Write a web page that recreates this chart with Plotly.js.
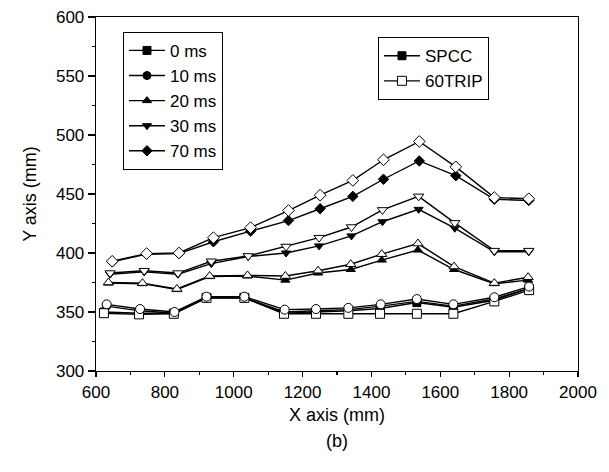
<!DOCTYPE html>
<html>
<head>
<meta charset="utf-8">
<script src="https://cdn.plot.ly/plotly-3.0.1.min.js"></script>
<style>html,body{margin:0;padding:0;background:#fff;}#chart{width:609px;height:472px;}</style>
</head>
<body>
<div id="chart"></div>
<script>
// X positions (mm) per delay group
const x0ms  = [623, 725, 826, 921, 1031, 1146, 1239, 1333, 1425, 1532, 1638, 1757, 1858];
const x10ms = [631, 728, 828, 921, 1031, 1148, 1239, 1333, 1427, 1532, 1638, 1757, 1858];
const x20ms = [636, 735, 835, 930, 1040, 1150, 1245, 1340, 1430, 1535, 1640, 1757, 1855];
const x30ms = [641, 740, 838, 935, 1042, 1152, 1248, 1342, 1432, 1537, 1642, 1757, 1857];
const x70ms = [647, 747, 841, 941, 1049, 1159, 1251, 1346, 1435, 1539, 1645, 1757, 1857];

// SPCC (filled markers)
const spcc0  = [350, 349, 349, 362, 362, 349, 350, 351, 353, 358, 354, 360, 370];
const spcc10 = [355, 351, 349, 362, 362, 350, 351, 352, 355, 359, 355, 361, 370];
const spcc20 = [374.5, 374, 369, 380, 380.5, 377, 383, 386, 394, 402.5, 386, 374, 377];
const spcc30 = [382, 384, 382, 391, 397, 400, 406, 414.5, 426.5, 437, 421, 401, 401];
const spcc70 = [392.5, 399, 399.5, 409.5, 418.5, 427.5, 437.5, 448, 462.5, 478, 465.5, 445.5, 444.5];

// 60TRIP (open markers)
const trip0  = [349, 348, 348.5, 362, 362, 348.5, 348.5, 348.5, 348.5, 348.5, 348.5, 359, 368.5];
const trip10 = [356.5, 352.5, 350, 363, 363, 352, 352.5, 353.5, 356.5, 361, 356.5, 362.5, 371.5];
const trip20 = [375, 374.5, 369.5, 380.5, 381, 380.5, 385, 390.5, 399, 408, 388.5, 374.5, 379.5];
const trip30 = [383, 385, 383, 393, 397.5, 405.5, 413, 422, 436.5, 448, 425.5, 402, 402];
const trip70 = [393, 399.5, 400, 413, 421.5, 436, 449, 461.5, 479, 494.5, 473, 447, 446];

const groupNames = ['0 ms', '10 ms', '20 ms', '30 ms', '70 ms'];
const symbols = ['square', 'circle', 'triangle-up', 'triangle-down', 'diamond'];
const xs = [x0ms, x10ms, x20ms, x30ms, x70ms];
const spcc = [spcc0, spcc10, spcc20, spcc30, spcc70];
const trip = [trip0, trip10, trip20, trip30, trip70];
const materialNames = ['SPCC', '60TRIP'];

const traces = [];
for (let i = 0; i < 5; i++) {
  traces.push({
    x: xs[i], y: spcc[i], type: 'scatter', mode: 'lines+markers',
    name: groupNames[i], legend: 'legend',
    line: {color: '#000', width: 1.4},
    marker: {symbol: symbols[i], size: 8, color: '#000', line: {color: '#000', width: 1}}
  });
}
for (let i = 0; i < 5; i++) {
  traces.push({
    x: xs[i], y: trip[i], type: 'scatter', mode: 'lines+markers',
    name: groupNames[i] + ' 60TRIP', showlegend: false,
    line: {color: '#000', width: 1.4},
    marker: {symbol: symbols[i], size: 9, color: '#fff', line: {color: '#000', width: 1}}
  });
}
// legend-only entries for material
traces.push({x: [null], y: [null], type: 'scatter', mode: 'lines+markers', name: materialNames[0],
  legend: 'legend2', line: {color: '#000', width: 1.4},
  marker: {symbol: 'square', size: 8, color: '#000', line: {color: '#000', width: 1}}});
traces.push({x: [null], y: [null], type: 'scatter', mode: 'lines+markers', name: materialNames[1],
  legend: 'legend2', line: {color: '#000', width: 1.4},
  marker: {symbol: 'square', size: 9, color: '#fff', line: {color: '#000', width: 1}}});

const fontFam = '"Liberation Sans", Arial, Helvetica, sans-serif';
const layout = {
  width: 609, height: 472,
  margin: {l: 96, r: 31, t: 17, b: 101},
  paper_bgcolor: '#fff', plot_bgcolor: '#fff',
  font: {family: fontFam, size: 17, color: '#000'},
  showlegend: true,
  xaxis: {
    range: [600, 2000], dtick: 200, tick0: 600,
    ticks: 'outside', ticklen: 5, tickwidth: 1.2, tickcolor: '#000',
    showline: true, linecolor: '#000', linewidth: 1.3, mirror: true,
    showgrid: false, zeroline: false,
    minor: {dtick: 100, ticks: 'outside', ticklen: 3, tickcolor: '#000', showgrid: false},
    tickfont: {size: 17},
    title: {text: 'X axis (mm)', font: {size: 18}, standoff: 7}
  },
  yaxis: {
    range: [300, 600], dtick: 50, tick0: 300,
    ticks: 'outside', ticklen: 7, tickwidth: 1.2, tickcolor: '#000',
    showline: true, linecolor: '#000', linewidth: 1.3, mirror: true,
    showgrid: false, zeroline: false,
    minor: {dtick: 25, ticks: 'outside', ticklen: 3, tickcolor: '#000', showgrid: false},
    tickfont: {size: 17},
    title: {text: 'Y axis (mm)', font: {size: 18}, standoff: 14}
  },
  legend: {
    x: 0.056, y: 0.958, xanchor: 'left', yanchor: 'top',
    bordercolor: '#000', borderwidth: 1, bgcolor: '#fff',
    font: {size: 17}, tracegroupgap: 0, itemwidth: 36
  },
  legend2: {
    x: 0.585, y: 0.943, xanchor: 'left', yanchor: 'top',
    bordercolor: '#000', borderwidth: 1, bgcolor: '#fff',
    font: {size: 17}, itemwidth: 36
  },
  annotations: [{
    text: '(b)', xref: 'paper', yref: 'paper', x: 0.5, y: -0.198,
    xanchor: 'center', yanchor: 'middle', showarrow: false, font: {size: 18}
  }]
};
Plotly.newPlot('chart', traces, layout, {displayModeBar: false, staticPlot: true});
</script>
</body>
</html>
